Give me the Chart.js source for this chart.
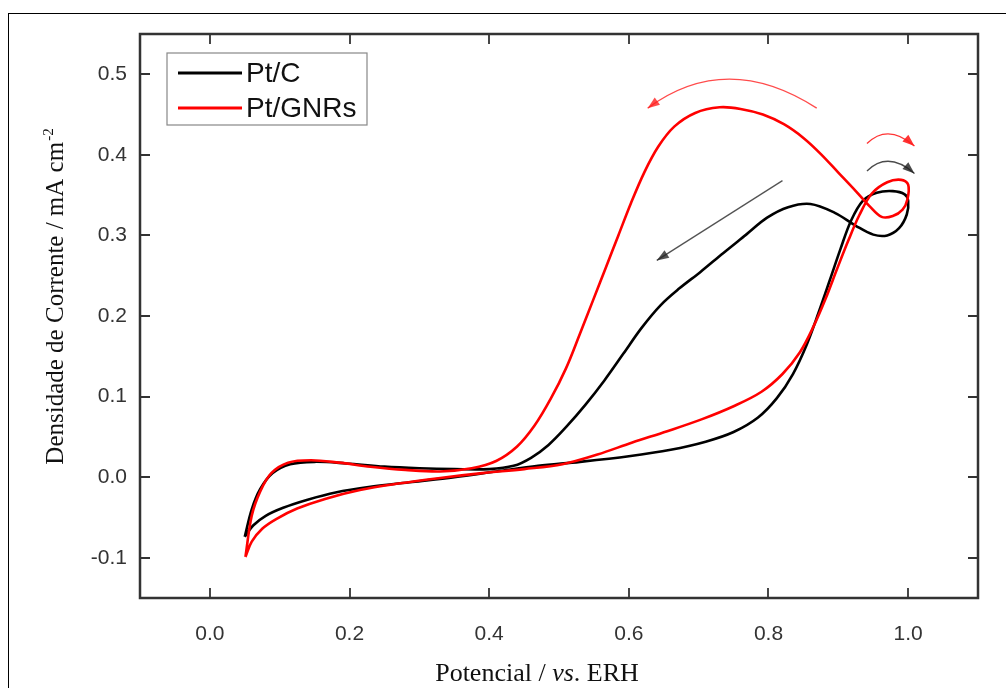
<!DOCTYPE html>
<html>
<head>
<meta charset="utf-8">
<script src="https://cdn.jsdelivr.net/npm/chart.js@4.4.0/dist/chart.umd.min.js"></script>
<style>
  html, body { margin: 0; padding: 0; background: #fff; }
  #wrap { position: relative; width: 1006px; height: 688px; overflow: hidden; }
  #frame { position: absolute; left: 8px; top: 13px; width: 1100px; height: 800px; border: 1.5px solid #000; }
  canvas { position: absolute; left: 0; top: 0; }
</style>
</head>
<body>
<div id="wrap">
  <div id="frame"></div>
  <canvas id="cvChart" width="1006" height="688"></canvas>
</div>
<script>
// Pt/C : forward scan (lower branch) then backward scan
const ptcPotential = [0.050, 0.062, 0.080, 0.105, 0.140, 0.180, 0.230, 0.290, 0.350, 0.410, 0.470, 0.530, 0.600, 0.660, 0.710, 0.750, 0.785, 0.812, 0.835, 0.855, 0.872, 0.888, 0.903, 0.918, 0.935, 0.955, 0.978, 0.995, 1.000,
                      0.998, 0.987, 0.970, 0.950, 0.925, 0.895, 0.860, 0.828, 0.798, 0.768, 0.735, 0.703, 0.672, 0.645, 0.618, 0.592, 0.565, 0.538, 0.510, 0.485, 0.460, 0.435, 0.400, 0.350, 0.300, 0.250, 0.195, 0.150, 0.115, 0.090, 0.072, 0.060, 0.050];
const ptcCurrent   = [-0.074, -0.060, -0.048, -0.038, -0.028, -0.019, -0.012, -0.006, 0.000, 0.007, 0.014, 0.019, 0.026, 0.034, 0.044, 0.056, 0.074, 0.098, 0.128, 0.165, 0.205, 0.245, 0.283, 0.318, 0.343, 0.353, 0.355, 0.351, 0.343,
                      0.326, 0.309, 0.300, 0.301, 0.312, 0.328, 0.339, 0.335, 0.322, 0.301, 0.278, 0.255, 0.234, 0.213, 0.185, 0.153, 0.120, 0.090, 0.062, 0.040, 0.024, 0.014, 0.010, 0.010, 0.011, 0.013, 0.017, 0.019, 0.016, 0.005, -0.015, -0.040, -0.074];

// Pt/GNRs
const gnrPotential = [0.051, 0.060, 0.075, 0.095, 0.125, 0.165, 0.215, 0.270, 0.330, 0.390, 0.450, 0.505, 0.555, 0.605, 0.655, 0.705, 0.750, 0.790, 0.820, 0.845, 0.865, 0.882, 0.898, 0.914, 0.930, 0.948, 0.970, 0.990, 1.000,
                      0.999, 0.992, 0.978, 0.962, 0.945, 0.925, 0.900, 0.875, 0.850, 0.822, 0.792, 0.760, 0.730, 0.695, 0.665, 0.642, 0.622, 0.603, 0.585, 0.567, 0.549, 0.530, 0.510, 0.488, 0.465, 0.440, 0.410, 0.375, 0.330, 0.280, 0.230, 0.185, 0.145, 0.112, 0.088, 0.072, 0.060, 0.051];
const gnrCurrent   = [-0.099, -0.080, -0.064, -0.052, -0.039, -0.027, -0.016, -0.008, -0.001, 0.005, 0.010, 0.016, 0.028, 0.043, 0.057, 0.072, 0.088, 0.106, 0.128, 0.155, 0.188, 0.222, 0.258, 0.293, 0.325, 0.352, 0.366, 0.369, 0.363,
                      0.345, 0.332, 0.324, 0.323, 0.336, 0.355, 0.378, 0.401, 0.421, 0.438, 0.450, 0.457, 0.459, 0.452, 0.435, 0.410, 0.378, 0.340, 0.300, 0.260, 0.220, 0.178, 0.135, 0.097, 0.064, 0.038, 0.020, 0.011, 0.007, 0.009, 0.013, 0.018, 0.021, 0.018, 0.005, -0.018, -0.048, -0.099];

const seriesNames = ['Pt/C', 'Pt/GNRs'];
const xTicks = [0.0, 0.2, 0.4, 0.6, 0.8, 1.0];
const yTicks = [-0.1, 0.0, 0.1, 0.2, 0.3, 0.4, 0.5];

// scan direction arrows (annotations, in axis units)
const scanArrows = [
  { color: 'rgba(255,30,30,0.8)', pts: [[0.869, 0.458], [0.744, 0.494], [0.627, 0.458]] },
  { color: 'rgba(255,30,30,0.9)', pts: [[0.941, 0.414], [0.973, 0.426], [1.009, 0.411]] },
  { color: 'rgba(30,30,30,0.8)', pts: [[0.941, 0.380], [0.973, 0.392], [1.009, 0.377]] },
  { color: 'rgba(40,40,40,0.8)', pts: [[0.820, 0.368], [0.640, 0.269]] }
];

const serif = '"Liberation Serif", "Times New Roman", serif';
const sans = '"Liberation Sans", Arial, sans-serif';

function drawArrow(ctx, xs, ys, arrow) {
  const p = arrow.pts.map(q => [xs.getPixelForValue(q[0]), ys.getPixelForValue(q[1])]);
  ctx.strokeStyle = arrow.color;
  ctx.fillStyle = arrow.color;
  ctx.lineWidth = 1.3;
  let dir;
  const end = p[p.length - 1];
  ctx.beginPath();
  ctx.moveTo(p[0][0], p[0][1]);
  if (p.length === 3) {
    const c = [2 * p[1][0] - (p[0][0] + p[2][0]) / 2, 2 * p[1][1] - (p[0][1] + p[2][1]) / 2];
    ctx.quadraticCurveTo(c[0], c[1], end[0], end[1]);
    dir = [end[0] - c[0], end[1] - c[1]];
  } else {
    ctx.lineTo(end[0], end[1]);
    dir = [end[0] - p[0][0], end[1] - p[0][1]];
  }
  ctx.stroke();
  const len = Math.hypot(dir[0], dir[1]);
  const ux = dir[0] / len, uy = dir[1] / len;
  const hl = 12, hw = 4.5;
  ctx.beginPath();
  ctx.moveTo(end[0], end[1]);
  ctx.lineTo(end[0] - ux * hl - uy * hw, end[1] - uy * hl + ux * hw);
  ctx.lineTo(end[0] - ux * hl + uy * hw, end[1] - uy * hl - ux * hw);
  ctx.closePath();
  ctx.fill();
}

const framePlugin = {
  id: 'framePlugin',
  afterDraw(chart) {
    const { ctx, chartArea: a, scales } = chart;
    const xs = scales.x, ys = scales.y;
    ctx.save();

    // axes box + inward ticks
    ctx.strokeStyle = '#333';
    ctx.lineWidth = 2.5;
    ctx.strokeRect(a.left, a.top, a.right - a.left, a.bottom - a.top);
    ctx.lineWidth = 1.8;
    const tl = 10;
    ctx.beginPath();
    xTicks.forEach(v => {
      const px = Math.round(xs.getPixelForValue(v));
      ctx.moveTo(px, a.bottom); ctx.lineTo(px, a.bottom - tl);
      ctx.moveTo(px, a.top); ctx.lineTo(px, a.top + tl);
    });
    yTicks.forEach(v => {
      const py = Math.round(ys.getPixelForValue(v));
      ctx.moveTo(a.left, py); ctx.lineTo(a.left + tl, py);
      ctx.moveTo(a.right, py); ctx.lineTo(a.right - tl, py);
    });
    ctx.stroke();

    // scan arrows
    scanArrows.forEach(ar => drawArrow(ctx, xs, ys, ar));

    // x title
    ctx.fillStyle = '#111';
    ctx.textBaseline = 'alphabetic';
    const parts = [['Potencial / ', ''], ['vs', 'italic '], ['. ERH', '']];
    let total = 0;
    parts.forEach(pt => { ctx.font = pt[1] + '26px ' + serif; total += ctx.measureText(pt[0]).width; });
    let cx = 537 - total / 2;
    parts.forEach(pt => {
      ctx.font = pt[1] + '26px ' + serif;
      ctx.textAlign = 'left';
      ctx.fillText(pt[0], cx, 681);
      cx += ctx.measureText(pt[0]).width;
    });

    // y title with superscript
    ctx.save();
    ctx.translate(63, 297);
    ctx.rotate(-Math.PI / 2);
    const main = 'Densidade de Corrente / mA cm';
    const sup = '-2';
    ctx.font = '25px ' + serif;
    const wMain = ctx.measureText(main).width;
    ctx.font = '15px ' + serif;
    const wSup = ctx.measureText(sup).width;
    let sx = -(wMain + wSup) / 2;
    ctx.textAlign = 'left';
    ctx.font = '25px ' + serif;
    ctx.fillText(main, sx, 0);
    ctx.font = '15px ' + serif;
    ctx.fillText(sup, sx + wMain + 1, -10);
    ctx.restore();

    // legend
    const lx = 167, ly = 53, lw = 200, lh = 72;
    ctx.fillStyle = '#fff';
    ctx.fillRect(lx, ly, lw, lh);
    ctx.strokeStyle = '#888';
    ctx.lineWidth = 1.2;
    ctx.strokeRect(lx, ly, lw, lh);
    const rows = [73, 108];
    chart.data.datasets.forEach((d, i) => {
      ctx.strokeStyle = d.borderColor;
      ctx.lineWidth = 3;
      ctx.beginPath();
      ctx.moveTo(178, rows[i]); ctx.lineTo(242, rows[i]);
      ctx.stroke();
      ctx.fillStyle = '#111';
      ctx.font = '28px ' + sans;
      ctx.textBaseline = 'middle';
      ctx.textAlign = 'left';
      ctx.fillText(d.label, 246, rows[i] + 1);
    });

    ctx.restore();
  }
};

const ctx = document.getElementById('cvChart').getContext('2d');
const chart = new Chart(ctx, {
  type: 'scatter',
  data: {
    datasets: [
      {
        label: seriesNames[0],
        data: ptcPotential.map((v, i) => ({ x: v, y: ptcCurrent[i] })),
        showLine: true, borderColor: '#000000', borderWidth: 2.6,
        pointRadius: 0, tension: 0.35, fill: false, order: 2
      },
      {
        label: seriesNames[1],
        data: gnrPotential.map((v, i) => ({ x: v, y: gnrCurrent[i] })),
        showLine: true, borderColor: '#ff0000', borderWidth: 2.6,
        pointRadius: 0, tension: 0.35, fill: false, order: 1
      }
    ]
  },
  options: {
    responsive: false,
    animation: false,
    layout: { padding: { left: 0, right: 28, top: 34, bottom: 0 } },
    plugins: { legend: { display: false }, tooltip: { enabled: false } },
    scales: {
      x: {
        type: 'linear', min: -0.1, max: 1.1,
        grid: { display: false, drawTicks: false },
        border: { display: false },
        afterBuildTicks: s => { s.ticks = xTicks.map(v => ({ value: v })); },
        afterFit: s => { s.height = 90; },
        ticks: { font: { family: sans, size: 21 }, color: '#333', padding: 24, maxRotation: 0,
                 callback: v => v.toFixed(1) }
      },
      y: {
        type: 'linear', min: -0.15, max: 0.55,
        grid: { display: false, drawTicks: false },
        border: { display: false },
        afterBuildTicks: s => { s.ticks = yTicks.map(v => ({ value: v })); },
        afterFit: s => { s.width = 140; },
        ticks: { font: { family: sans, size: 21 }, color: '#333', padding: 13,
                 callback: v => v.toFixed(1) }
      }
    }
  },
  plugins: [framePlugin]
});
</script>
</body>
</html>
